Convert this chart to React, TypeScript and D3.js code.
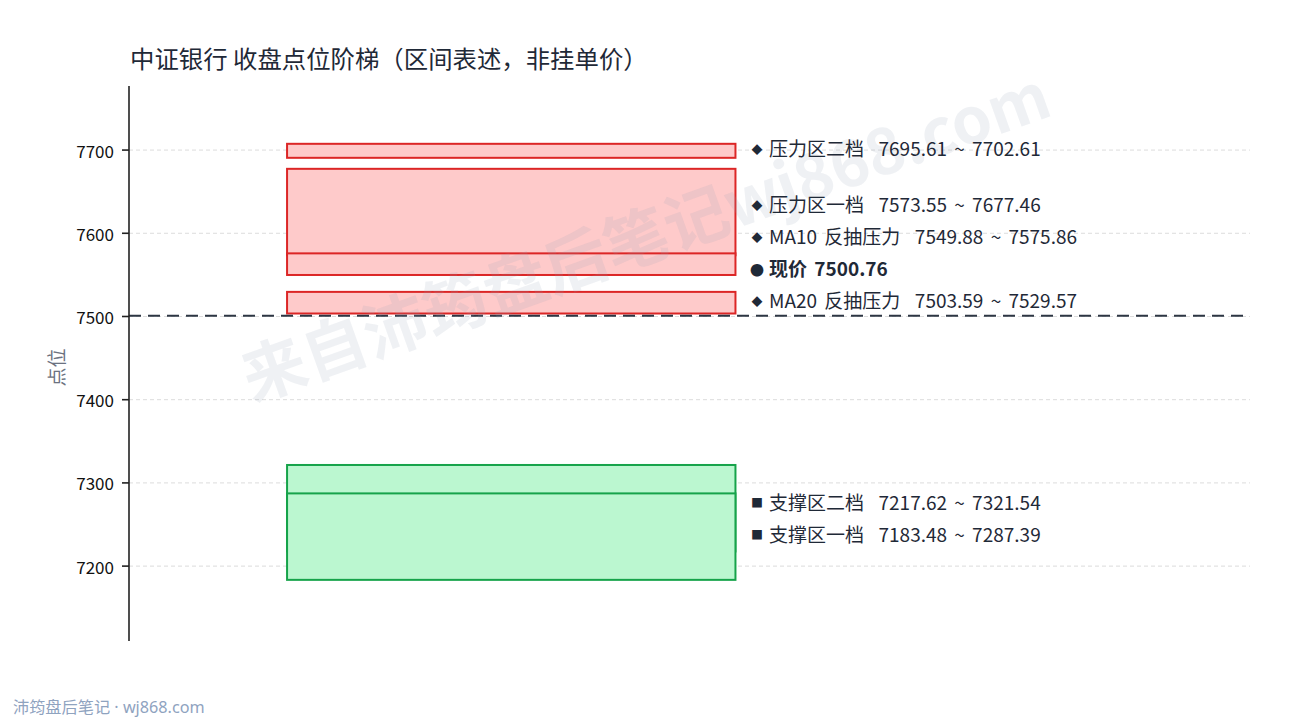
import React from 'react';
import * as d3 from 'd3';

// chart data
const title = '中证银行 收盘点位阶梯（区间表述，非挂单价）';
const zoneNames = ['压力区二档', '压力区一档', 'MA10 反抽压力', 'MA20 反抽压力', '支撑区二档', '支撑区一档'];
const zoneLow = [7695.61, 7573.55, 7549.88, 7503.59, 7217.62, 7183.48];
const zoneHigh = [7702.61, 7677.46, 7575.86, 7529.57, 7321.54, 7287.39];
const zoneKind = ['resist', 'resist', 'resist', 'resist', 'support', 'support'];
const currentPrice = 7500.76;
const yTicks = [7200, 7300, 7400, 7500, 7600, 7700];
const yDomain = [7110, 7777];

const W = 1290;
const H = 720;
const margin = { top: 86, right: 40, bottom: 79, left: 129 };
const FONT = '"Noto Sans CJK SC", "Noto Sans", sans-serif';
const MIN_BAND_PX = 14;

const colors = {
  resist: { fill: '#fecaca', stroke: '#dc2626' },
  support: { fill: '#bbf7d0', stroke: '#16a34a' },
};

const App: React.FC = () => {
  const innerW = W - margin.left - margin.right;
  const y = d3.scaleLinear().domain(yDomain).range([H - margin.bottom, margin.top]);
  const x = d3.scaleLinear().domain([0, 1]).range([margin.left, margin.left + innerW]);
  const bandX0 = x(0.141);
  const bandX1 = x(0.541);

  // label list: zones with current price inserted after MA10
  type Lbl = { text: string; value: number; marker: string; bold?: boolean };
  const labels: Lbl[] = [];
  zoneNames.forEach((n, i) => {
    const fmt = (v: number) => v.toFixed(2);
    labels.push({
      text: `${n}  ${fmt(zoneLow[i])} ~ ${fmt(zoneHigh[i])}`,
      value: (zoneLow[i] + zoneHigh[i]) / 2,
      marker: zoneKind[i] === 'resist' ? '◆' : '■',
    });
    if (n.startsWith('MA10')) {
      labels.push({ text: `现价 ${currentPrice.toFixed(2)}`, value: currentPrice, marker: '●', bold: true });
    }
  });
  // push labels apart from bottom up
  const gap = 32;
  const ys = labels.map((l) => y(l.value));
  for (let i = ys.length - 2; i >= 0; i--) {
    ys[i] = Math.min(ys[i], ys[i + 1] - gap);
  }

  const bandRect = (i: number) => {
    const top = y(zoneHigh[i]);
    const bot = y(zoneLow[i]);
    const h = Math.max(bot - top, MIN_BAND_PX);
    const mid = (top + bot) / 2;
    return { y: mid - h / 2, h };
  };

  return (
    <div style={{ position: 'absolute', left: 0, top: 0 }}>
      <svg width={W} height={H} style={{ display: 'block', background: '#fff', fontFamily: FONT }}>
        {/* grid */}
        {yTicks.map((t) => (
          <line key={'g' + t} x1={margin.left} x2={margin.left + innerW} y1={y(t)} y2={y(t)}
            stroke="#dcdcdc" strokeWidth={1} strokeDasharray="4,3" />
        ))}

        {/* zones */}
        {zoneNames.map((_, i) => {
          const c = colors[zoneKind[i] as 'resist' | 'support'];
          const r = bandRect(i);
          return (
            <rect key={'z' + i} x={bandX0} width={bandX1 - bandX0} y={r.y} height={r.h}
              fill={c.fill} stroke={c.stroke} strokeWidth={2} />
          );
        })}

        {/* current price line */}
        <line x1={margin.left} x2={margin.left + innerW} y1={y(currentPrice)} y2={y(currentPrice)}
          stroke="#2d3643" strokeWidth={2} strokeDasharray="12,7" />

        {/* watermark */}
        <text transform="translate(644,232) rotate(-19.7)" textAnchor="middle" dominantBaseline="central"
          fontSize={64} fontWeight="bold" fill="#94a3b8" fillOpacity={0.15}>
          来自沛筠盘后笔记wj868.com
        </text>

        {/* y axis */}
        <line x1={margin.left} x2={margin.left} y1={margin.top} y2={H - margin.bottom} stroke="#222" strokeWidth={1.6} />
        {yTicks.map((t) => (
          <g key={'t' + t}>
            <line x1={margin.left - 7} x2={margin.left} y1={y(t)} y2={y(t)} stroke="#222" strokeWidth={1.6} />
            <text x={margin.left - 15} y={y(t)} textAnchor="end" dominantBaseline="central" fontSize={17} fill="#111">
              {t}
            </text>
          </g>
        ))}
        <text transform={`translate(55,${(margin.top + H - margin.bottom) / 2 + 4}) rotate(-90)`} textAnchor="middle"
          dominantBaseline="central" fontSize={19} fill="#6b7280">
          点位
        </text>

        {/* labels */}
        {labels.map((l, i) => (
          <g key={'l' + i}>
            <text x={757} y={ys[i] - 2} textAnchor="middle" dominantBaseline="central"
              fontSize={l.marker === '●' ? 14 : l.marker === '■' ? 12 : 11} fill="#1f2937">
              {l.marker}
            </text>
            <text x={769} y={ys[i] - 3} dominantBaseline="central" fontSize={19} wordSpacing={3}
              fontWeight={l.bold ? 'bold' : 'normal'} fill="#1f2937" style={{ whiteSpace: 'pre' }}>
              {l.text}
            </text>
          </g>
        ))}

        {/* title */}
        <text x={130} y={57} dominantBaseline="central" fontSize={24.4} fill="#1f2937">
          {title}
        </text>

        {/* footer */}
        <text x={13} y={707} dominantBaseline="central" fontSize={16.2} fill="#8fa3bf"
          style={{ fontFamily: '"Noto Sans", "Noto Sans CJK SC", sans-serif' }}>
          沛筠盘后笔记 · wj868.com
        </text>
      </svg>
    </div>
  );
};

export default App;
